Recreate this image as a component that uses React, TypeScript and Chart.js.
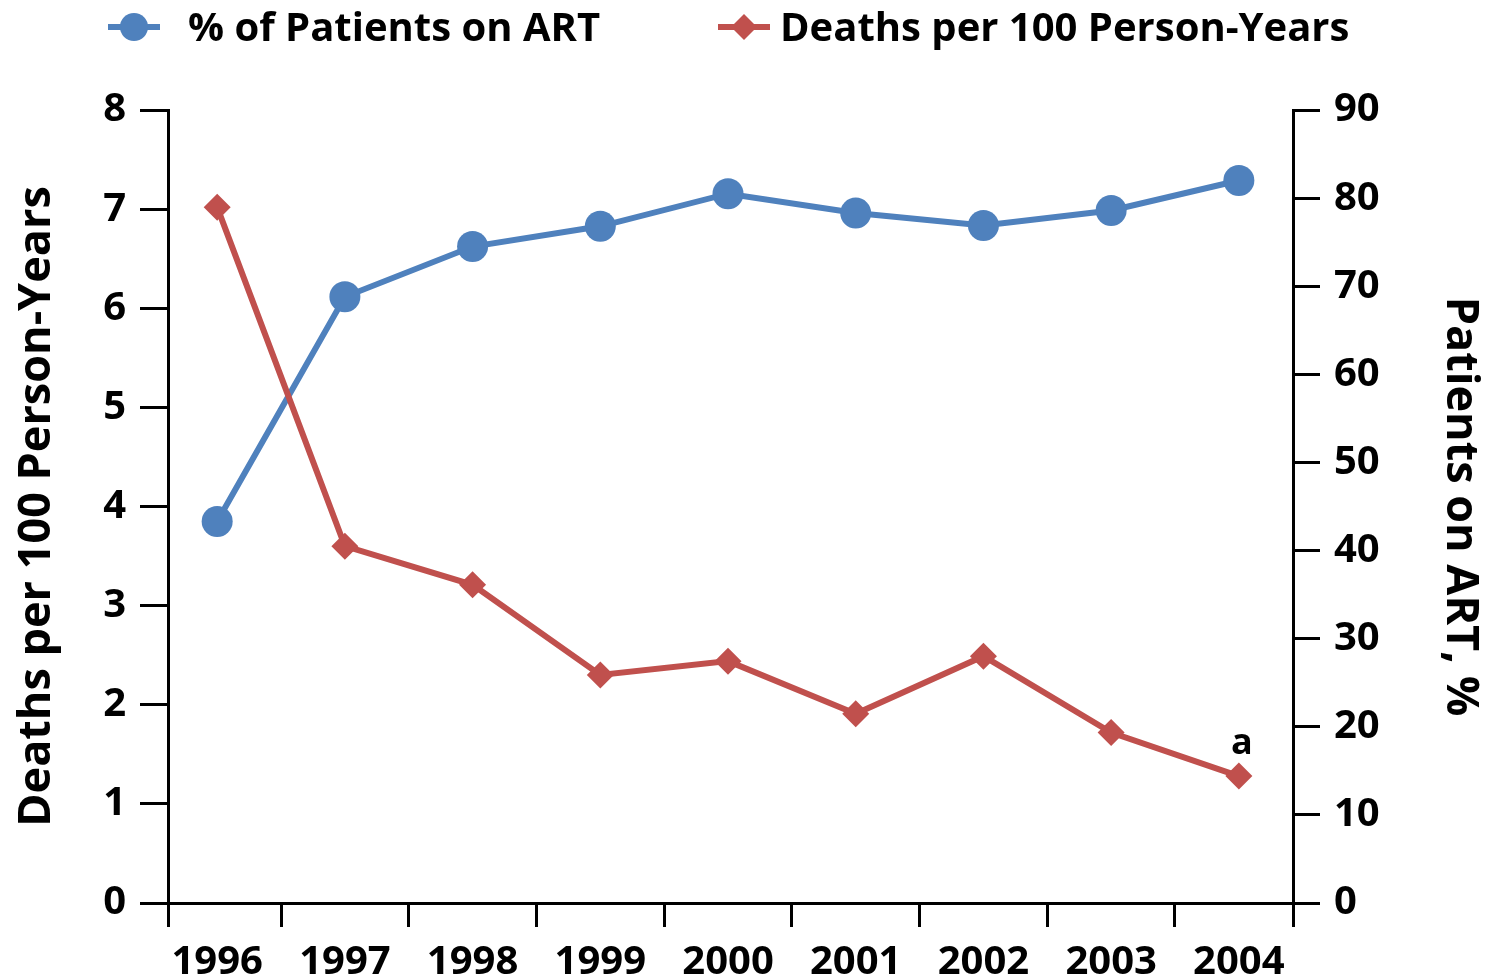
import React, { useEffect, useRef } from "react";
import { Chart, registerables } from "chart.js";

Chart.register(...registerables);

const years = ["1996", "1997", "1998", "1999", "2000", "2001", "2002", "2003", "2004"];
const artPercent = [43.3, 68.8, 74.5, 76.8, 80.5, 78.3, 76.9, 78.6, 82.0];
const deathsPer100 = [7.02, 3.6, 3.21, 2.3, 2.44, 1.91, 2.49, 1.72, 1.28];
const leftTicks = [0, 8, 1];
const rightTicks = [0, 90, 10];
const footnoteIndex = 8;
const footnoteText = "a";

const BLUE = "#4F81BD";
const RED = "#C0504D";
const FONT = '"Open Sans", Lato, sans-serif';

// x-axis extent (in years) — plot edges sit slightly inside the outer category boundaries
const X_MIN = 1995.615;
const X_MAX = 2004.424;

const legendPlugin = {
  id: "customLegend",
  afterDraw(chart: any) {
    const ctx = chart.ctx;
    ctx.save();
    const items = [
      { x: 108, color: BLUE, style: "circle", text: "% of Patients on ART", tx: 188 },
      { x: 718, color: RED, style: "diamond", text: "Deaths per 100 Person-Years", tx: 780 },
    ];
    const cy = 27;
    for (const it of items) {
      ctx.strokeStyle = it.color;
      ctx.lineWidth = 6;
      ctx.beginPath();
      ctx.moveTo(it.x, cy);
      ctx.lineTo(it.x + 52, cy);
      ctx.stroke();
      ctx.fillStyle = it.color;
      ctx.beginPath();
      const mx = it.x + 26;
      if (it.style === "circle") {
        ctx.arc(mx, cy, 14, 0, Math.PI * 2);
      } else {
        ctx.moveTo(mx, cy - 13);
        ctx.lineTo(mx + 13, cy);
        ctx.lineTo(mx, cy + 13);
        ctx.lineTo(mx - 13, cy);
        ctx.closePath();
      }
      ctx.fill();
      ctx.fillStyle = "#000";
      ctx.font = `bold 40px ${FONT}`;
      ctx.textAlign = "left";
      ctx.textBaseline = "middle";
      ctx.fillText(it.text, it.tx, cy + 3);
    }
    const meta = chart.getDatasetMeta(1);
    const pt = meta.data[footnoteIndex];
    if (pt) {
      ctx.font = `bold 36px ${FONT}`;
      ctx.textAlign = "center";
      ctx.textBaseline = "bottom";
      ctx.fillText(footnoteText, pt.x + 3, pt.y - 14);
    }
    ctx.restore();
  },
};

export default function App() {
  const ref = useRef<HTMLCanvasElement | null>(null);
  useEffect(() => {
    if (!ref.current) return;
    const tickFont = { family: FONT, size: 40, weight: "bold" as const };
    const titleFont = { family: FONT, size: 45, weight: "bold" as const };
    const yearValues = years.map((y) => Number(y));
    const boundaryValues = [X_MIN, ...yearValues.slice(0, -1).map((v) => v + 0.5), X_MAX];
    const chart = new Chart(ref.current, {
      type: "line",
      data: {
        datasets: [
          {
            label: "% of Patients on ART",
            data: yearValues.map((x, i) => ({ x, y: artPercent[i] })),
            xAxisID: "x",
            yAxisID: "y1",
            borderColor: BLUE,
            backgroundColor: BLUE,
            borderWidth: 6,
            pointRadius: 15.5,
            pointStyle: "circle",
            pointBorderWidth: 0,
            order: 2,
          },
          {
            label: "Deaths per 100 Person-Years",
            data: yearValues.map((x, i) => ({ x, y: deathsPer100[i] })),
            xAxisID: "x",
            yAxisID: "y",
            borderColor: RED,
            backgroundColor: RED,
            borderWidth: 6,
            pointRadius: 13.5,
            pointStyle: "rectRot",
            pointBorderWidth: 0,
            order: 1,
          },
        ],
      },
      options: {
        responsive: false,
        animation: false,
        layout: { padding: { top: 110, left: 0, right: 0, bottom: 0 } },
        plugins: { legend: { display: false }, tooltip: { enabled: false } },
        scales: {
          x: {
            type: "linear",
            position: "bottom",
            min: X_MIN,
            max: X_MAX,
            weight: 0,
            afterBuildTicks: (s: any) => { s.ticks = boundaryValues.map((value) => ({ value })); },
            grid: { drawOnChartArea: false, tickLength: 24, color: "#000", lineWidth: 3 },
            border: { color: "#000", width: 3 },
            ticks: { display: false },
            afterFit: (s: any) => { s.height = 24; },
          },
          xLabels: {
            type: "linear",
            position: "bottom",
            min: X_MIN,
            max: X_MAX,
            weight: 1,
            afterBuildTicks: (s: any) => { s.ticks = yearValues.map((value) => ({ value })); },
            grid: { display: false },
            border: { display: false },
            ticks: {
              font: tickFont,
              color: "#000",
              padding: 4,
              maxRotation: 0,
              autoSkip: false,
              callback: (v: any) => String(v),
            },
            afterFit: (s: any) => { s.height = 53; },
          },
          y: {
            position: "left",
            min: leftTicks[0],
            max: leftTicks[1],
            ticks: { stepSize: leftTicks[2], font: tickFont, color: "#000", padding: 14 },
            grid: { drawOnChartArea: false, tickLength: 28, color: "#000", lineWidth: 3 },
            border: { color: "#000", width: 3 },
            title: {
              display: true,
              text: "Deaths per 100 Person-Years",
              font: titleFont,
              color: "#000",
              padding: { top: 10, bottom: 0 },
            },
            afterFit: (s: any) => { s.width = 168; },
          },
          y1: {
            position: "right",
            min: rightTicks[0],
            max: rightTicks[1],
            ticks: { stepSize: rightTicks[2], font: tickFont, color: "#000", padding: 14 },
            grid: { drawOnChartArea: false, tickLength: 27, color: "#000", lineWidth: 3 },
            border: { color: "#000", width: 3 },
            title: {
              display: true,
              text: "Patients on ART, %",
              font: titleFont,
              color: "#000",
              padding: { top: 3, bottom: 0 },
            },
            afterFit: (s: any) => { s.width = 197; },
          },
        },
      },
      plugins: [legendPlugin],
    });
    return () => chart.destroy();
  }, []);
  return (
    <div style={{ position: "fixed", left: 0, top: 0, width: 1490, height: 980, background: "#fff" }}>
      <canvas ref={ref} width={1490} height={980} style={{ display: "block" }} />
    </div>
  );
}
